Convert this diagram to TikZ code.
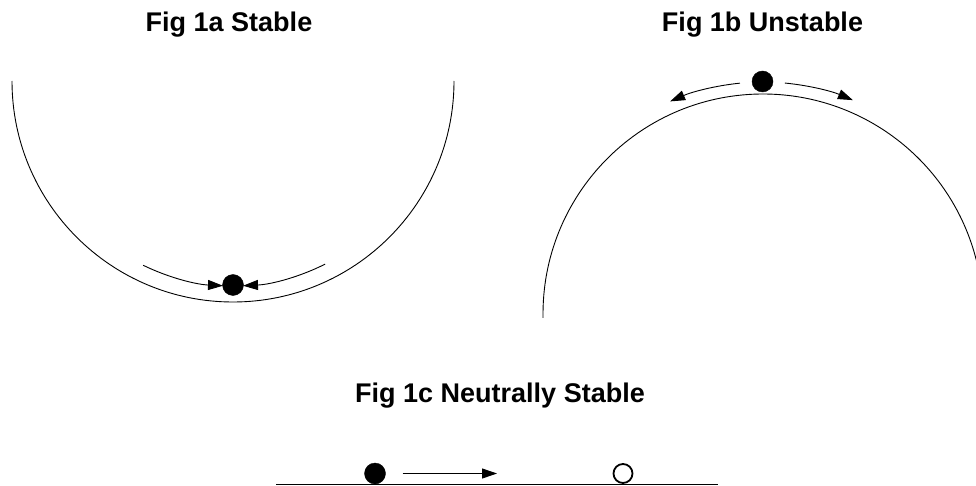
\documentclass[tikz,border=0pt]{standalone}
\usepackage{fontspec}
\newfontfamily\arialfont{Liberation Sans}
\usetikzlibrary{arrows.meta, positioning, calc}
\tikzstyle{title} = [font=\arialfont\bfseries\fontsize{27}{30}\selectfont, anchor=base, inner sep=0pt]
\tikzstyle{ball} = [circle, draw=black, fill=black, minimum size=21pt, inner sep=0pt]
\tikzstyle{ghost} = [circle, draw=black, line width=1.8pt, fill=white, minimum size=19pt, inner sep=0pt]
\tikzstyle{curve} = [line width=0.9pt]
\tikzstyle{arrow} = [line width=0.9pt, -{Triangle[length=15pt,width=10pt]}]

\begin{document}
\begin{tikzpicture}[x=1pt, y=-1pt]
    \useasboundingbox (0,0) rectangle (976,486);

    % Titles
    \node (titlea) [title] at (229,32) {Fig 1a Stable};
    \node (titleb) [title] at (762.5,32) {Fig 1b Unstable};
    \node (titlec) [title] at (500,402) {Fig 1c Neutrally Stable};

    % Fig 1a: bowl
    \coordinate (bowl) at (233,81);
    \draw [curve] ([shift={(0:221)}]bowl) arc[start angle=0, end angle=180, radius=221];
    \node (balla) [ball] at (233,285) {};
    \coordinate (rolla) at ([shift={(116:205)}]bowl);
    \coordinate (rollb) at ([shift={(63.3:205)}]bowl);
    \draw [arrow] (rolla) arc[start angle=116, end angle=92.8, radius=205];
    \draw [arrow] (rollb) arc[start angle=63.3, end angle=87.2, radius=205];

    % Fig 1b: hill
    \coordinate (hill) at (763,314);
    \begin{scope}
        \clip (0,0) rectangle (976,486);
        \draw [curve] ([shift={(179:220)}]hill) arc[start angle=179, end angle=346, radius=220];
    \end{scope}
    \node (ballb) [ball] at (762.5,81.5) {};
    \coordinate (fallc) at ([shift={(264.3:232)}]hill);
    \coordinate (falld) at ([shift={(275.4:232)}]hill);
    \draw [arrow] (fallc) arc[start angle=264.3, end angle=246.4, radius=232];
    \draw [arrow] (falld) arc[start angle=275.4, end angle=292.8, radius=232];

    % Fig 1c: flat floor
    \coordinate (floorl) at (276,484.5);
    \coordinate (floorr) at (718,484.5);
    \draw [curve] (floorl) -- (floorr);
    \node (ballc) [ball] at (375,473.5) {};
    \node (balld) [ghost] at (623,473.5) {};
    \coordinate (rollend) at (497,473.5);
    \draw [arrow] ([xshift=17pt]ballc.east) -- (rollend);

\end{tikzpicture}
\end{document}
